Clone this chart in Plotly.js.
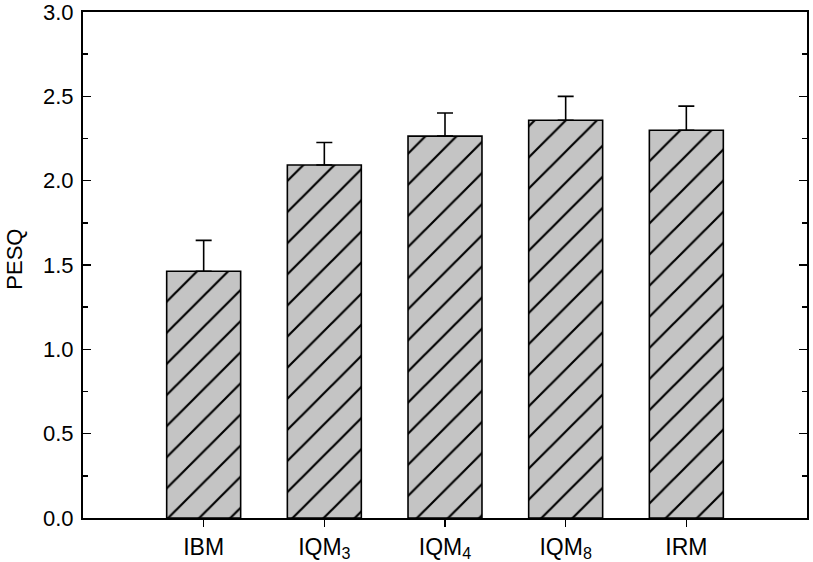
<!DOCTYPE html>
<html>
<head>
<meta charset="utf-8">
<script src="https://cdn.plot.ly/plotly-3.0.1.min.js"></script>
<style>
  html, body { margin: 0; padding: 0; background: #fff; }
  #chart { width: 813px; height: 562px; }
</style>
</head>
<body>
<div id="chart"></div>
<script>
  // bar data
  var methods = ['IBM', 'IQM3', 'IQM4', 'IQM8', 'IRM'],
      labels = ['IBM', 'IQM<sub>3</sub>', 'IQM<sub>4</sub>', 'IQM<sub>8</sub>', 'IRM'],
      pesq = [1.463, 2.093, 2.264, 2.358, 2.299],
      pesqErr = [0.183, 0.133, 0.137, 0.142, 0.143],
      noErr = [0, 0, 0, 0, 0],
      yTicks = [0, 0.5, 1, 1.5, 2, 2.5, 3],
      yTickText = ['0.0', '0.5', '1.0', '1.5', '2.0', '2.5', '3.0'];

  var xpos = [];
  for (var i = 0; i < methods.length; i++) {
    xpos.push(i);
  }

  var bars = {
    type: 'bar',
    x: xpos,
    y: pesq,
    width: 0.613,
    marker: {
      color: '#c4c4c4',
      line: { color: '#000', width: 1.6 },
      pattern: { shape: '/', fgcolor: '#000', bgcolor: '#c4c4c4', size: 22, solidity: 0.1 }
    },
    error_y: {
      type: 'data',
      symmetric: false,
      array: pesqErr,
      arrayminus: noErr,
      color: '#000',
      thickness: 1.6,
      width: 8
    },
    hoverinfo: 'none'
  };

  var font = 'Liberation Sans, Arial, sans-serif';

  var layout = {
    width: 813,
    height: 562,
    margin: { l: 83, r: 6, t: 12, b: 44 },
    paper_bgcolor: '#fff',
    plot_bgcolor: '#fff',
    showlegend: false,
    font: { family: font, color: '#000' },
    xaxis: {
      range: [-1, 5],
      tickvals: xpos,
      ticktext: labels,
      ticks: 'outside',
      ticklen: 7,
      tickwidth: 1.6,
      tickcolor: '#000',
      tickfont: { family: font, size: 23, color: '#000' },
      showline: true,
      linecolor: '#000',
      linewidth: 2,
      mirror: true,
      showgrid: false,
      zeroline: false
    },
    yaxis: {
      range: [0, 3],
      tickvals: yTicks,
      ticktext: yTickText,
      ticks: 'inside',
      ticklen: 8,
      tickwidth: 1.6,
      tickcolor: '#000',
      tickfont: { family: font, size: 22, color: '#000' },
      ticklabeloverflow: 'allow',
      ticklabelstandoff: 3,
      minor: { ticks: 'inside', dtick: 0.25, ticklen: 5, tickwidth: 1.6, tickcolor: '#000', showgrid: false },
      showline: true,
      linecolor: '#000',
      linewidth: 2,
      mirror: 'ticks',
      showgrid: false,
      zeroline: false
    },
    // y title placed by hand so it sits at the left edge like the original
    annotations: [{
      text: 'PESQ',
      xref: 'paper', yref: 'paper',
      x: -0.095, y: 0.511,
      xanchor: 'center', yanchor: 'middle',
      textangle: -90,
      showarrow: false,
      font: { family: font, size: 22, color: '#000' }
    }]
  };

  Plotly.newPlot('chart', [bars], layout, { displayModeBar: false, staticPlot: true });
</script>
</body>
</html>
